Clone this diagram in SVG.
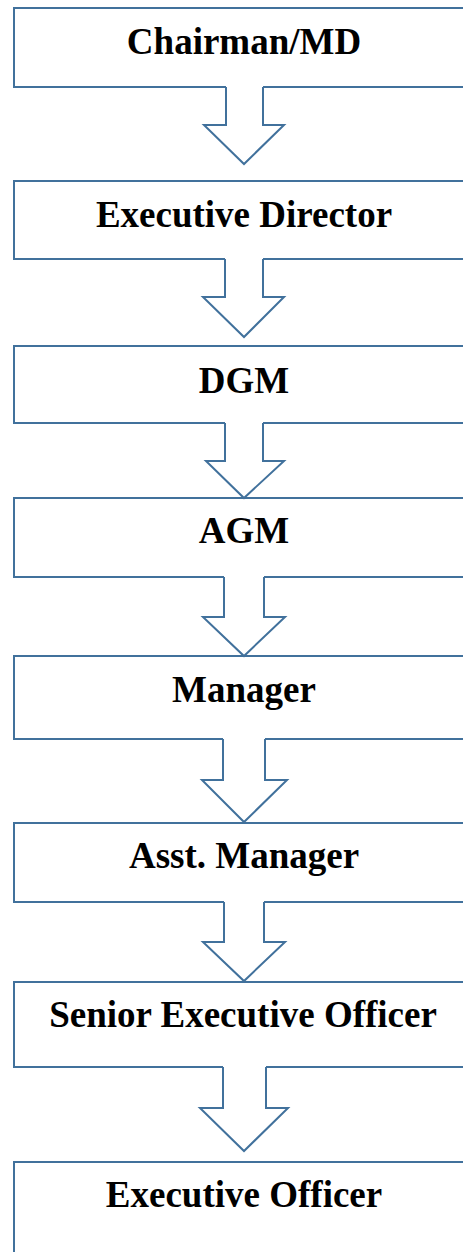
<svg xmlns="http://www.w3.org/2000/svg" width="463" height="1252" viewBox="0 0 463 1252">
  <style>
    .box { fill: none; stroke: #41719C; stroke-width: 2; stroke-linejoin: miter; }
    .arrow { fill: #FFFFFF; stroke: #41719C; stroke-width: 2; stroke-linejoin: miter; }
    .label { font-family: "Liberation Serif", "Times New Roman", serif; font-weight: bold; font-size: 37px; fill: #000000; text-anchor: middle; }
  </style>
  <rect width="463" height="1252" fill="#FFFFFF"/>

  <!-- down arrows linking each level to the next -->
  <g id="connectors">
    <path class="arrow" d="M226 87 V125 H204 L244 164 L284 125 H263 V87"/>
    <path class="arrow" d="M225 259 V297 H203 L244 337 L284 297 H263 V259"/>
    <path class="arrow" d="M225 423 V461 H206 L244 498 L284 461 H263 V423"/>
    <path class="arrow" d="M224 577 V617 H203 L244 656 L285 617 H264 V577"/>
    <path class="arrow" d="M223 739 V780 H202 L244 822 L287 780 H265 V739"/>
    <path class="arrow" d="M224 902 V942 H203 L244 981 L285 942 H264 V902"/>
    <path class="arrow" d="M223 1067 V1108 H200 L244 1151 L288 1108 H266 V1067"/>
  </g>

  <!-- hierarchy levels -->
  <g id="chairman">
    <path class="box" d="M226 87 H14 V8 H470 M263 87 H470"/>
    <text class="label" x="244" y="54">Chairman/MD</text>
  </g>
  <g id="executive-director">
    <path class="box" d="M225 259 H14 V181 H470 M263 259 H470"/>
    <text class="label" x="244" y="227">Executive Director</text>
  </g>
  <g id="dgm">
    <path class="box" d="M225 423 H14 V346 H470 M263 423 H470"/>
    <text class="label" x="244" y="393">DGM</text>
  </g>
  <g id="agm">
    <path class="box" d="M224 577 H14 V498 H470 M264 577 H470"/>
    <text class="label" x="244" y="543">AGM</text>
  </g>
  <g id="manager">
    <path class="box" d="M223 739 H14 V656 H470 M265 739 H470"/>
    <text class="label" x="244" y="702">Manager</text>
  </g>
  <g id="asst-manager">
    <path class="box" d="M224 902 H14 V823 H470 M264 902 H470"/>
    <text class="label" x="244" y="868">Asst. Manager</text>
  </g>
  <g id="senior-executive-officer">
    <path class="box" d="M223 1067 H14 V982 H470 M266 1067 H470"/>
    <text class="label" x="243" y="1027">Senior Executive Officer</text>
  </g>
  <g id="executive-officer">
    <path class="box" d="M14 1260 V1162 H470"/>
    <text class="label" x="244" y="1207">Executive Officer</text>
  </g>
</svg>
